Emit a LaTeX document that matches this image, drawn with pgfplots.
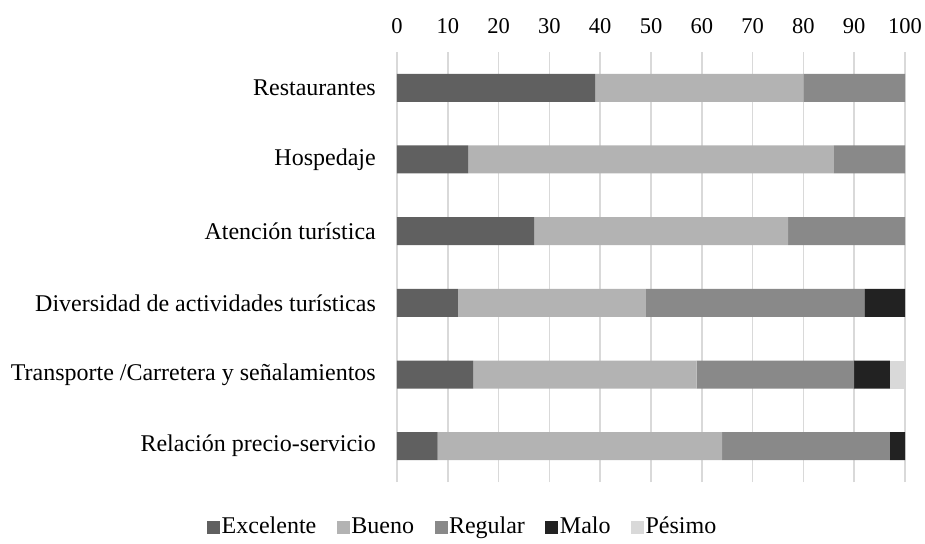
\documentclass[border=0pt]{standalone}
\usepackage{fontspec}
\setmainfont{Liberation Serif}
\usepackage{pgfplots}
\pgfplotsset{compat=1.18}
\definecolor{cExc}{HTML}{606060}
\definecolor{cBue}{HTML}{B3B3B3}
\definecolor{cReg}{HTML}{898989}
\definecolor{cMal}{HTML}{222222}
\definecolor{cPes}{HTML}{D9D9D9}
\definecolor{gridc}{HTML}{D9D9D9}
\begin{document}
\fontsize{24}{28}\selectfont
\begin{tikzpicture}
\useasboundingbox (-397pt,-61pt) rectangle (528pt,482pt);
\begin{axis}[
  at={(0pt,0pt)}, anchor=south west,
  scale only axis, width=508pt, height=430pt,
  xbar stacked, bar width=28pt,
  xmin=0, xmax=100, xtick={0,10,...,100},
  ymin=-0.5, ymax=5.5, ytick={0,1,2,3,4,5},
  yticklabels={Relación precio-servicio, Transporte /Carretera y señalamientos, Diversidad de actividades turísticas, Atención turística, Hospedaje, Restaurantes},
  xticklabel pos=upper,
  axis line style={draw=none},
  major tick length=0pt,
  xmajorgrids, ymajorgrids=false, grid style={color=gridc, line width=1.5pt},
  /pgf/number format/assume math mode=true,
  xticklabel style={font=\fontsize{22.5}{26}\selectfont, yshift=10pt},
  yticklabel style={font=\fontsize{24}{28}\selectfont, xshift=-13pt},
  legend style={draw=none, fill=none, at={(0.129,-0.106)}, anchor=center,
    legend columns=-1, font=\fontsize{24}{28}\selectfont,
    /tikz/every even column/.append style={column sep=19pt},
    nodes={inner sep=1.5pt, text height=17pt, text depth=5pt}},
  legend image code/.code={\fill[#1] (0pt,-6.5pt) rectangle (13pt,6.5pt);},
  every axis plot/.append style={draw=none},
]
\addplot[fill=cExc] coordinates {(39,5) (14,4) (27,3) (12,2) (15,1) (8,0)};
\addplot[fill=cBue] coordinates {(41,5) (72,4) (50,3) (37,2) (44,1) (56,0)};
\addplot[fill=cReg] coordinates {(20,5) (14,4) (23,3) (43,2) (31,1) (33,0)};
\addplot[fill=cMal] coordinates {(0,5) (0,4) (0,3) (8,2) (7,1) (3,0)};
\addplot[fill=cPes] coordinates {(0,5) (0,4) (0,3) (0,2) (3,1) (0,0)};
\legend{Excelente, Bueno, Regular, Malo, Pésimo}
\end{axis}
\end{tikzpicture}
\end{document}
